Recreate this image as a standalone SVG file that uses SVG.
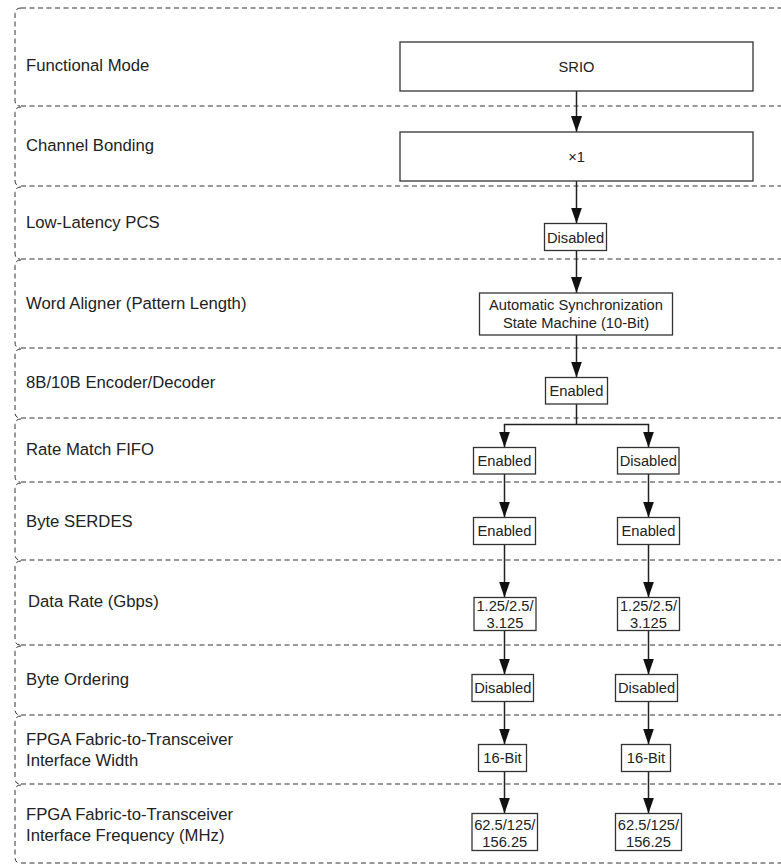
<svg xmlns="http://www.w3.org/2000/svg" width="781" height="865" viewBox="0 0 781 865">
<defs>
<marker id="arr" markerWidth="16" markerHeight="11" refX="16" refY="5.5" orient="auto" markerUnits="userSpaceOnUse" viewBox="0 0 16 11"><path d="M0,0 L16,5.5 L0,11 z" fill="#111"/></marker>
<style>
.row{fill:none;stroke:#333;stroke-width:1;stroke-dasharray:5 3.5}
.lbl{font-family:"Liberation Sans",Arial,sans-serif;font-size:16.7px;fill:#222}
.box rect{fill:#fff;stroke:#333;stroke-width:1.3}
.box text{font-family:"Liberation Sans",Arial,sans-serif;font-size:14.7px;fill:#222;text-anchor:middle}
.con{fill:none;stroke:#222;stroke-width:1.5}
.con .a{marker-end:url(#arr)}
</style>
</defs>
<rect width="781" height="865" fill="#fff"/>

<g id="rows">
<path class="row" d="M21,8 H781 M21,106 H781 M21,186 H781 M21,259 H781 M21,348 H781 M21,418 H781 M21,482 H781 M21,560 H781 M21,645 H781 M21,715 H781 M21,784 H781 M21,863 H781"/>
<path class="row" d="M21,8 Q15,8 15,14 V100 Q15,106 20,106"/>
<path class="row" d="M21,107 Q15,107 15,113 V180 Q15,186 20,186"/>
<path class="row" d="M21,187 Q15,187 15,193 V253 Q15,259 20,259"/>
<path class="row" d="M21,260 Q15,260 15,266 V342 Q15,348 20,348"/>
<path class="row" d="M21,349 Q15,349 15,355 V412 Q15,418 20,418"/>
<path class="row" d="M21,419 Q15,419 15,425 V476 Q15,482 20,482"/>
<path class="row" d="M21,483 Q15,483 15,489 V554 Q15,560 20,560"/>
<path class="row" d="M21,561 Q15,561 15,567 V639 Q15,645 20,645"/>
<path class="row" d="M21,646 Q15,646 15,652 V709 Q15,715 20,715"/>
<path class="row" d="M21,716 Q15,716 15,722 V778 Q15,784 20,784"/>
<path class="row" d="M21,785 Q15,785 15,791 V857 Q15,863 20,863"/>
</g>

<g id="labels">
<text class="lbl" x="26" y="71">Functional Mode</text>
<text class="lbl" x="26" y="151">Channel Bonding</text>
<text class="lbl" x="26" y="228">Low-Latency PCS</text>
<text class="lbl" x="26" y="309">Word Aligner (Pattern Length)</text>
<text class="lbl" x="26" y="388">8B/10B Encoder/Decoder</text>
<text class="lbl" x="26" y="455">Rate Match FIFO</text>
<text class="lbl" x="26" y="527">Byte SERDES</text>
<text class="lbl" x="28" y="607">Data Rate (Gbps)</text>
<text class="lbl" x="26" y="685">Byte Ordering</text>
<text class="lbl" x="26" y="745">FPGA Fabric-to-Transceiver</text>
<text class="lbl" x="26" y="766">Interface Width</text>
<text class="lbl" x="26" y="820">FPGA Fabric-to-Transceiver</text>
<text class="lbl" x="26" y="841">Interface Frequency (MHz)</text>
</g>

<g id="connectors" class="con">
<path class="a" d="M576.5,91 V132"/>
<path class="a" d="M576.5,181 V223.5"/>
<path class="a" d="M576.5,251 V293"/>
<path class="a" d="M576.5,335 V377.5"/>
<path d="M576.5,404 V424.5 M503.8,424.5 H649.2"/>
<path class="a" d="M504.5,424.5 V447.5"/>
<path class="a" d="M648.5,424.5 V447.5"/>
<path class="a" d="M504.5,474 V517.5"/>
<path class="a" d="M648.5,474 V517.5"/>
<path class="a" d="M504.5,544 V597.5"/>
<path class="a" d="M648.5,544 V597.5"/>
<path class="a" d="M504.5,631 V674.5"/>
<path class="a" d="M648.5,631 V674.5"/>
<path class="a" d="M504.5,702 V744.5"/>
<path class="a" d="M648.5,702 V744.5"/>
<path class="a" d="M504.5,772 V813.5"/>
<path class="a" d="M648.5,772 V813.5"/>
</g>

<g id="n-srio" class="box"><rect x="400" y="42" width="353" height="49"/><text x="576.5" y="72">SRIO</text></g>
<g id="n-x1" class="box"><rect x="400" y="132" width="353" height="49"/><text x="576.5" y="162">×1</text></g>
<g id="n-llpcs" class="box"><rect x="544.5" y="223.5" width="62" height="27"/><text x="575.5" y="242.5">Disabled</text></g>
<g id="n-wa" class="box"><rect x="479.5" y="293" width="193" height="42"/><text x="576" y="309.5">Automatic Synchronization</text><text x="576" y="328">State Machine (10-Bit)</text></g>
<g id="n-8b10b" class="box"><rect x="545.5" y="377.5" width="62" height="26.5"/><text x="576.5" y="396">Enabled</text></g>
<g id="n-rm-l" class="box"><rect x="473.5" y="447.5" width="62" height="26.5"/><text x="504.5" y="466">Enabled</text></g>
<g id="n-rm-r" class="box"><rect x="617.5" y="447.5" width="61.5" height="26.5"/><text x="648.3" y="466">Disabled</text></g>
<g id="n-bs-l" class="box"><rect x="473.5" y="517.5" width="62" height="27"/><text x="504.5" y="536">Enabled</text></g>
<g id="n-bs-r" class="box"><rect x="617.5" y="517.5" width="62" height="27"/><text x="648.5" y="536">Enabled</text></g>
<g id="n-dr-l" class="box"><rect x="474" y="597.5" width="62" height="33"/><text x="505" y="611">1.25/2.5/</text><text x="505" y="628">3.125</text></g>
<g id="n-dr-r" class="box"><rect x="617.5" y="597.5" width="62" height="33"/><text x="648.5" y="611">1.25/2.5/</text><text x="648.5" y="628">3.125</text></g>
<g id="n-bo-l" class="box"><rect x="472" y="674.5" width="61.5" height="27"/><text x="502.8" y="693">Disabled</text></g>
<g id="n-bo-r" class="box"><rect x="615.5" y="674.5" width="62" height="27"/><text x="646.5" y="693">Disabled</text></g>
<g id="n-w-l" class="box"><rect x="478.5" y="744.5" width="48" height="27"/><text x="502.5" y="763">16-Bit</text></g>
<g id="n-w-r" class="box"><rect x="621.5" y="744.5" width="49" height="27"/><text x="646" y="763">16-Bit</text></g>
<g id="n-f-l" class="box"><rect x="472" y="813.5" width="65.5" height="37"/><text x="504.8" y="829.5">62.5/125/</text><text x="504.8" y="846.5">156.25</text></g>
<g id="n-f-r" class="box"><rect x="615.5" y="813.5" width="66" height="37"/><text x="648.5" y="829.5">62.5/125/</text><text x="648.5" y="846.5">156.25</text></g>
</svg>
